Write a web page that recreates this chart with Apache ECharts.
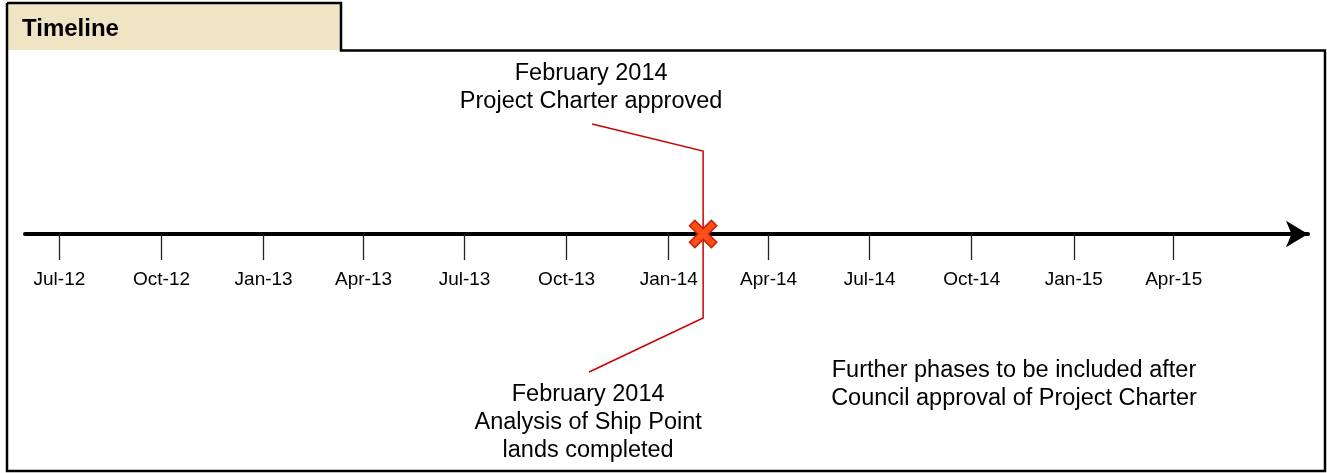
<!DOCTYPE html>
<html>
<head>
<meta charset="utf-8">
<script src="https://cdn.jsdelivr.net/npm/echarts@6/dist/echarts.min.js"></script>
<style>
html,body{margin:0;padding:0;background:#fff;}
#chart{width:1327px;height:473px;}
</style>
</head>
<body>
<div id="chart"></div>
<script>
// ---- data ----
const chartTitle = 'Timeline';
const axisRange = ['2012-05-31', '2015-07-31'];
const tickDates = ['2012-07-01','2012-10-01','2013-01-01','2013-04-01','2013-07-01','2013-10-01',
                   '2014-01-01','2014-04-01','2014-07-01','2014-10-01','2015-01-01','2015-04-01'];
const tickLabels = ['Jul-12','Oct-12','Jan-13','Apr-13','Jul-13','Oct-13',
                    'Jan-14','Apr-14','Jul-14','Oct-14','Jan-15','Apr-15'];
const eventDate = '2014-02-01';
const eventTopText = ['February 2014', 'Project Charter approved'];
const eventBottomText = ['February 2014', 'Analysis of Ship Point', 'lands completed'];
const noteText = ['Further phases to be included after', 'Council approval of Project Charter'];

// ---- helpers ----
function ts(s){ const p = s.split('-').map(Number); return Date.UTC(p[0], p[1]-1, p[2]); }
const tickValues = tickDates.map(ts);
const labelByTs = {};
tickValues.forEach((v,i)=>{ labelByTs[v] = tickLabels[i]; });

const FONT = 'Arial, "Liberation Sans", Helvetica, sans-serif';
const RED = '#CC0000';

function xMarkerPoints(cx, cy){
  const a = 3.8, b = 15.5;
  const pts = [[a,-b],[a,-a],[b,-a],[b,a],[a,a],[a,b],[-a,b],[-a,a],[-b,a],[-b,-a],[-a,-a],[-a,-b]];
  const c = Math.SQRT1_2;
  return pts.map(p => [cx + (p[0]-p[1])*c, cy + (p[0]+p[1])*c]);
}

const chart = echarts.init(document.getElementById('chart'), null, {renderer:'canvas'});
chart.setOption({
  animation: false,
  backgroundColor: '#ffffff',
  title: {
    text: chartTitle, left: 22, top: 17, padding: 0,
    textStyle: {fontFamily: FONT, fontSize: 24, fontWeight: 'bold', color: '#000'}
  },
  grid: {left: 25, right: 19, top: 60, bottom: 239, containLabel: false},
  xAxis: {
    type: 'value',
    min: ts(axisRange[0]), max: ts(axisRange[1]),
    splitLine: {show: false},
    axisLine: {show: true, symbol: ['none','arrow'], symbolSize: [20, 22],
               lineStyle: {color: '#000', width: 4}},
    axisTick: {show: true, customValues: tickValues, length: 26,
               lineStyle: {color: '#222', width: 1.3}},
    axisLabel: {show: true, customValues: tickValues, margin: 36,
                fontFamily: FONT, fontSize: 19, color: '#000',
                formatter: function(v){ return labelByTs[v] || ''; }}
  },
  yAxis: {type: 'value', min: 0, max: 1, show: false},
  graphic: [
    {type: 'rect', shape: {x: 7, y: 4, width: 334, height: 46}, style: {fill: '#EFE4C3'}, z: -10},
    {type: 'polyline', shape: {points: [[7,3],[341,3],[341,50.5],[1325,50.5],[1325,471],[7,471],[7,3]]},
     style: {stroke: '#000', lineWidth: 2.5, fill: null}, z: 10},
    {type: 'text', x: 1014, y: 385, z: 10,
     style: {text: noteText.join('\n'), font: '23.5px ' + FONT, fill: '#000',
             align: 'center', verticalAlign: 'middle', lineHeight: 28}}
  ],
  series: [{
    type: 'custom',
    coordinateSystem: 'cartesian2d',
    data: [[ts(eventDate), 0]],
    z: 10,
    renderItem: function(params, api){
      const p = api.coord([api.value(0), api.value(1)]);
      const x = p[0], y = p[1];
      return {
        type: 'group',
        children: [
          {type: 'polyline', shape: {points: [[x-111, y-110],[x, y-83],[x, y+84],[x-114, y+138]]},
           style: {stroke: RED, lineWidth: 1.5, fill: null}},
          {type: 'polygon', shape: {points: xMarkerPoints(x, y)},
           style: {fill: '#FF4E17', stroke: '#C8200C', lineWidth: 1.5}},
          {type: 'text', x: x - 112, y: y - 146,
           style: {text: eventTopText.join('\n'), font: '23.5px ' + FONT, fill: '#000',
                   align: 'center', verticalAlign: 'middle', lineHeight: 28}},
          {type: 'text', x: x - 115, y: y + 189,
           style: {text: eventBottomText.join('\n'), font: '23.5px ' + FONT, fill: '#000',
                   align: 'center', verticalAlign: 'middle', lineHeight: 28}}
        ]
      };
    }
  }]
});
</script>
</body>
</html>
